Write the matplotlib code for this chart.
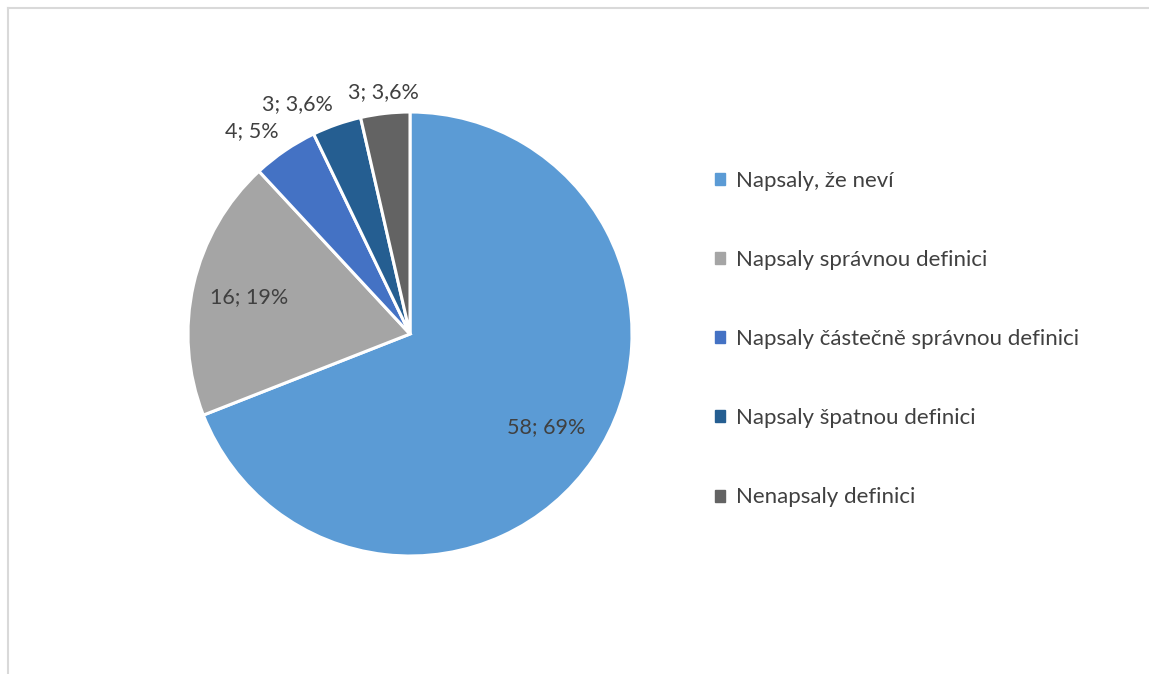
import numpy as np
import matplotlib.pyplot as plt
from matplotlib.patches import Rectangle

# Data
categories = ['Napsaly, že neví', 'Napsaly správnou definici',
              'Napsaly částečně správnou definici', 'Napsaly špatnou definici',
              'Nenapsaly definici']
counts = [58, 16, 4, 3, 3]
pct_labels = ['69%', '19%', '5%', '3,6%', '3,6%']
colors = ['#5B9BD5', '#A5A5A5', '#4472C4', '#255E91', '#636363']

TEXT_COLOR = '#404040'
plt.rcParams['font.family'] = ['Lato', 'DejaVu Sans']

W, H = 1149, 674
fig = plt.figure(figsize=(W / 100, H / 100), dpi=100)

# chart frame (only top and left edges visible in the crop)
fig.add_artist(plt.Line2D([8 / W, 1], [1 - 8 / H, 1 - 8 / H], color='#d9d9d9', lw=1.5))
fig.add_artist(plt.Line2D([8 / W, 8 / W], [0, 1 - 8 / H], color='#d9d9d9', lw=1.5))

cx, cy, r = 410, 334, 222
ax = fig.add_axes([(cx - r) / W, (H - cy - r) / H, 2 * r / W, 2 * r / H])
wedges, _ = ax.pie(counts, colors=colors, startangle=90, counterclock=False,
                   radius=1, wedgeprops=dict(edgecolor='white', linewidth=2.2))
ax.set_xlim(-1, 1)
ax.set_ylim(-1, 1)
ax.set_aspect('equal')
ax.axis('off')

# data labels: inside for big slices, outside for small ones
for i, w in enumerate(wedges):
    mid = np.deg2rad((w.theta1 + w.theta2) / 2)
    txt = f'{counts[i]}; {pct_labels[i]}'
    frac = counts[i] / sum(counts)
    if frac > 0.1:
        rr = 0.745
        ax.text(rr * np.cos(mid), rr * np.sin(mid), txt, ha='center', va='center',
                fontsize=15.5, color=TEXT_COLOR)
    else:
        rr = 1.05
        x, y = rr * np.cos(mid), rr * np.sin(mid)
        ha = 'center' if abs(np.cos(mid)) < 0.2 else ('right' if x < 0 else 'left')
        ax.text(x, y, txt, ha=ha, va='bottom', fontsize=15.5, color=TEXT_COLOR,
                clip_on=False)

handles = [Rectangle((0, 0), 1, 1, color=c) for c in colors]
fig.legend(handles, categories, loc='upper left', bbox_to_anchor=(715 / W, 1 - 171 / H),
           frameon=False, fontsize=16, labelcolor=TEXT_COLOR,
           handlelength=0.45, handleheight=0.45, handletextpad=0.5,
           labelspacing=2.66, borderpad=0, borderaxespad=0)

fig.savefig('out.png', dpi=100)
